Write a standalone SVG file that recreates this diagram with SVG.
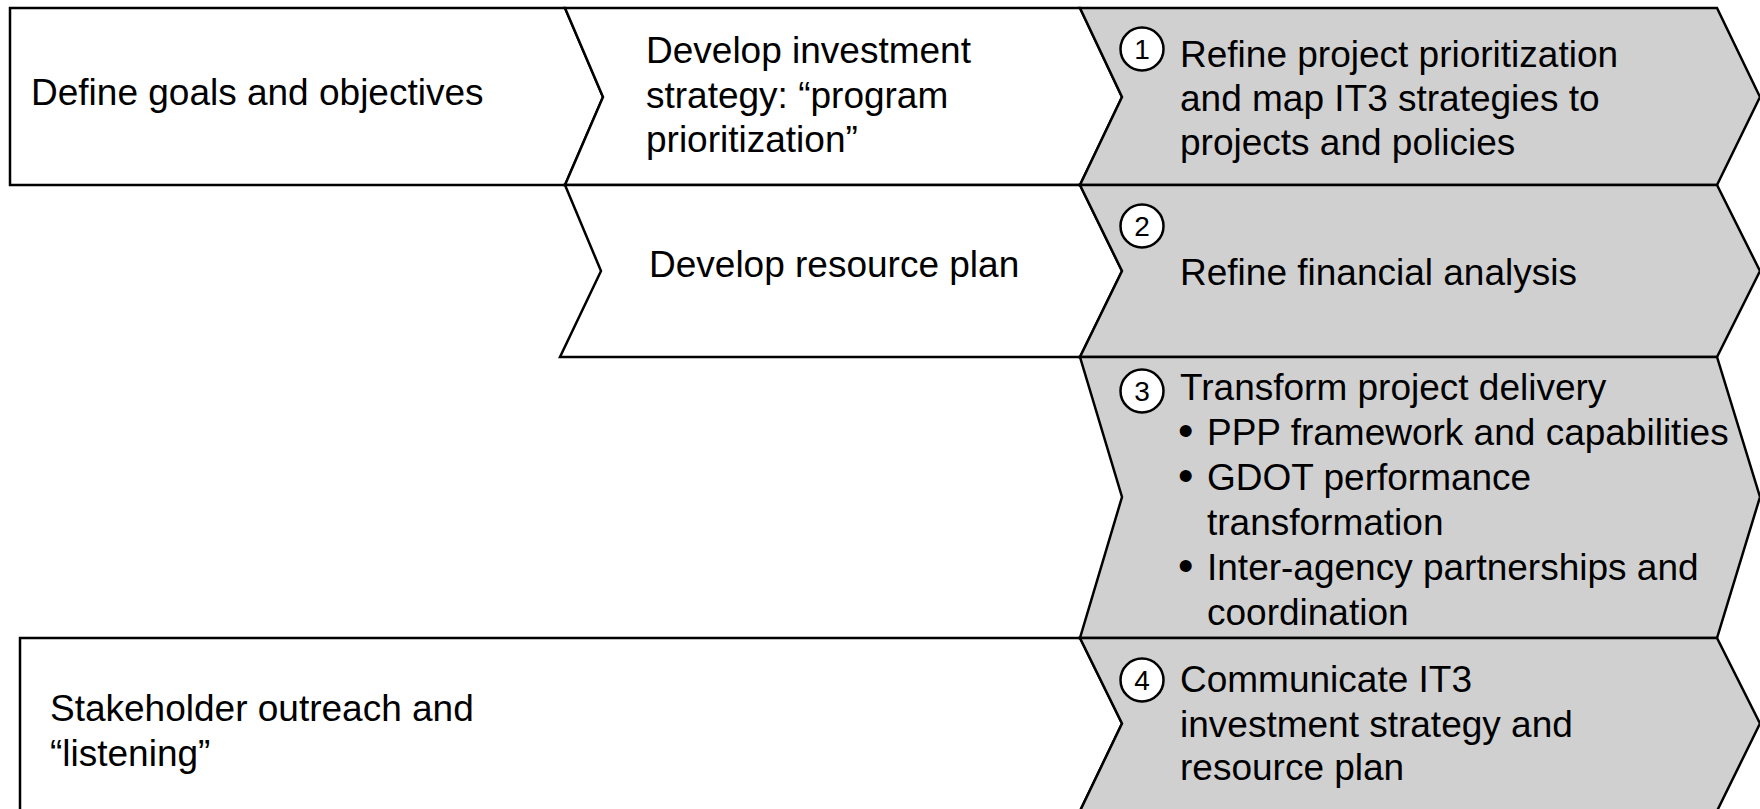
<svg xmlns="http://www.w3.org/2000/svg" width="1760" height="809" viewBox="0 0 1760 809">
<style>
.w{fill:#ffffff;stroke:#000000;stroke-width:2.5;stroke-linejoin:miter}
.g{fill:#d0d0d0;stroke:#000000;stroke-width:2.5;stroke-linejoin:miter}
.t{font-family:"Liberation Sans",Arial,sans-serif;font-size:37px;fill:#000000}
.b{font-size:44px}
.n{font-family:"Liberation Sans",Arial,sans-serif;font-size:28px;fill:#000000;text-anchor:middle}
.c{fill:#ffffff;stroke:#000000;stroke-width:2.5}
</style>
<rect x="0" y="0" width="1760" height="809" fill="#ffffff"/>
<g id="stakeholder">
<polygon class="w" points="20,638 1080,638 1122,723.5 1080,811 20,811"/>
<text class="t" x="50" y="721">Stakeholder outreach and</text>
<text class="t" x="50" y="766">“listening”</text>
</g>
<g id="define-goals">
<polygon class="w" points="10,8 565,8 603,97 565,185 10,185"/>
<text class="t" x="31" y="105">Define goals and objectives</text>
</g>
<g id="investment-strategy">
<polygon class="w" points="565,8 1080,8 1122,97 1080,185 565,185 603,97"/>
<text class="t" x="646" y="63">Develop investment</text>
<text class="t" x="646" y="108">strategy: “program</text>
<text class="t" x="646" y="152">prioritization”</text>
</g>
<g id="resource-plan">
<polygon class="w" points="565,185 1080,185 1122,271 1080,357 560,357 601,271"/>
<text class="t" x="649" y="277">Develop resource plan</text>
</g>
<g id="step1">
<polygon class="g" points="1080,8 1717,8 1760,97 1717,185 1080,185 1122,97"/>
<circle class="c" cx="1142" cy="49" r="21.5"/>
<text class="n" x="1142" y="59">1</text>
<text class="t" x="1180" y="67">Refine project prioritization</text>
<text class="t" x="1180" y="111">and map IT3 strategies to</text>
<text class="t" x="1180" y="155">projects and policies</text>
</g>
<g id="step2">
<polygon class="g" points="1080,185 1717,185 1760,271 1717,357 1080,357 1122,271"/>
<circle class="c" cx="1142" cy="226" r="21.5"/>
<text class="n" x="1142" y="236">2</text>
<text class="t" x="1180" y="285">Refine financial analysis</text>
</g>
<g id="step3">
<polygon class="g" points="1080,357 1717,357 1760,497 1717,638 1080,638 1122,497"/>
<circle class="c" cx="1142" cy="391" r="21.5"/>
<text class="n" x="1142" y="401">3</text>
<text class="t" x="1180" y="400">Transform project delivery</text>
<text class="t" x="1178" y="446"><tspan class="b">•</tspan><tspan x="1207" y="445">PPP framework and capabilities</tspan></text>
<text class="t" x="1178" y="491"><tspan class="b">•</tspan><tspan x="1207" y="490">GDOT performance</tspan></text>
<text class="t" x="1207" y="535">transformation</text>
<text class="t" x="1178" y="581"><tspan class="b">•</tspan><tspan x="1207" y="580">Inter-agency partnerships and</tspan></text>
<text class="t" x="1207" y="625">coordination</text>
</g>
<g id="step4">
<polygon class="g" points="1080,638 1717,638 1760,723.5 1717,811 1080,811 1122,723.5"/>
<circle class="c" cx="1142" cy="680" r="21.5"/>
<text class="n" x="1142" y="690">4</text>
<text class="t" x="1180" y="692">Communicate IT3</text>
<text class="t" x="1180" y="737">investment strategy and</text>
<text class="t" x="1180" y="780">resource plan</text>
</g>
</svg>
